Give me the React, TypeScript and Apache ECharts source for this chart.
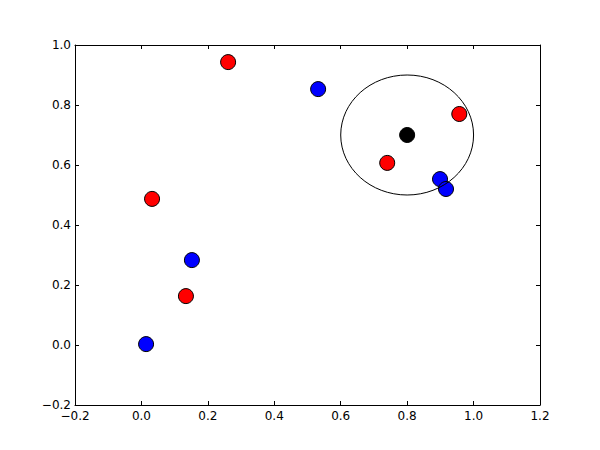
import React, { useEffect, useRef } from "react";
import * as echarts from "echarts";

const redPoints: [number, number][] = [
  [0.261, 0.943],
  [0.032, 0.487],
  [0.134, 0.163],
  [0.74, 0.607],
  [0.957, 0.77],
];
const bluePoints: [number, number][] = [
  [0.532, 0.853],
  [0.152, 0.283],
  [0.014, 0.003],
  [0.899, 0.553],
  [0.917, 0.52],
];
const centerPoint: [number, number][] = [[0.8, 0.7]];
const circleSpec: [number, number, number][] = [[0.8, 0.7, 0.2]];

const fmt = (v: number) => v.toFixed(1).replace("-", "\u2212");

export default function App() {
  const ref = useRef<HTMLDivElement>(null);
  useEffect(() => {
    if (!ref.current) return;
    const chart = echarts.init(ref.current, null, { renderer: "svg" });
    const font = { fontFamily: "DejaVu Sans", fontSize: 12, color: "#000" };
    const line = { show: true, lineStyle: { color: "#000", width: 1 } };
    const tick = { show: true, inside: true, length: 4, lineStyle: { color: "#000" } };
    const marker = (color: string) => ({
      color,
      borderColor: "#000",
      borderWidth: 1,
      opacity: 1,
    });
    chart.setOption({
      animation: false,
      backgroundColor: "#fff",
      grid: { left: 75, right: 60, top: 45, bottom: 45, containLabel: false },
      xAxis: [
        {
          type: "value",
          min: -0.2,
          max: 1.2,
          interval: 0.2,
          position: "bottom",
          axisLine: { ...line, onZero: false },
          axisTick: tick,
          splitLine: { show: false },
          axisLabel: { ...font, margin: 5, formatter: fmt },
        },
        {
          type: "value",
          min: -0.2,
          max: 1.2,
          interval: 0.2,
          position: "top",
          axisLine: { ...line, onZero: false },
          axisTick: tick,
          splitLine: { show: false },
          axisLabel: { show: false },
        },
      ],
      yAxis: [
        {
          type: "value",
          min: -0.2,
          max: 1.0,
          interval: 0.2,
          position: "left",
          axisLine: { ...line, onZero: false },
          axisTick: tick,
          splitLine: { show: false },
          axisLabel: { ...font, margin: 4, formatter: fmt },
        },
        {
          type: "value",
          min: -0.2,
          max: 1.0,
          interval: 0.2,
          position: "right",
          axisLine: { ...line, onZero: false },
          axisTick: tick,
          splitLine: { show: false },
          axisLabel: { show: false },
        },
      ],
      series: [
        {
          type: "scatter",
          data: redPoints,
          symbolSize: 15,
          itemStyle: marker("#ff0000"),
          z: 3,
        },
        {
          type: "scatter",
          data: bluePoints,
          symbolSize: 15,
          itemStyle: marker("#0000ff"),
          z: 3,
        },
        {
          type: "custom",
          data: circleSpec,
          renderItem: (params: any, api: any) => {
            const c = api.coord([api.value(0), api.value(1)]);
            const s = api.size([api.value(2), api.value(2)]);
            return {
              type: "ellipse",
              shape: { cx: c[0], cy: c[1], rx: s[0], ry: s[1] },
              style: { fill: "none", stroke: "#000", lineWidth: 1 },
            };
          },
          z: 4,
        },
        {
          type: "scatter",
          data: centerPoint,
          symbolSize: 15,
          itemStyle: marker("#000000"),
          z: 5,
        },
      ],
    });
    return () => chart.dispose();
  }, []);
  return <div ref={ref} style={{ width: 600, height: 450, position: "absolute", left: 0, top: 0 }} />;
}
